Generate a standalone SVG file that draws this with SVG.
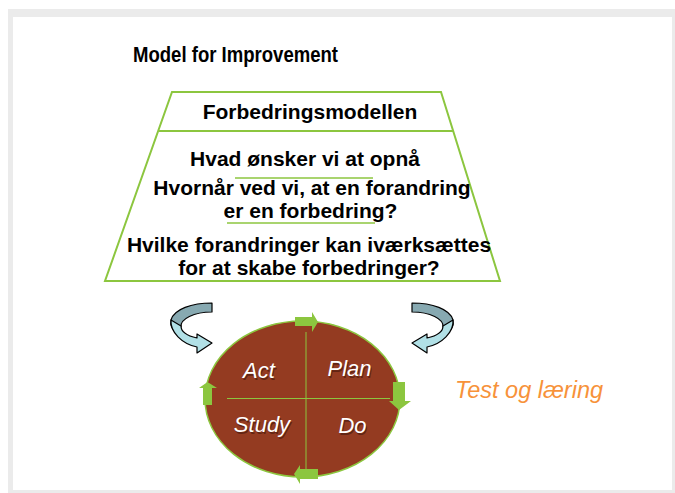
<svg xmlns="http://www.w3.org/2000/svg" width="675" height="493" viewBox="0 0 675 493">
<defs>
<style>
.t{font-family:"Liberation Sans",Arial,sans-serif;font-weight:bold;font-size:21px;fill:#000;text-anchor:middle}
.g{stroke:#8cc63f;fill:none}
.lbl{font-family:"Liberation Sans",Arial,sans-serif;font-style:italic;font-size:22px;fill:#fff;text-anchor:middle}
.sh{fill:#3a1208;opacity:0.55}
.ga{fill:#8cc63f}
.dk{fill:#87a9b1;stroke:#000;stroke-width:1.2;stroke-linejoin:round}
.lt{fill:#b1e0e6;stroke:#000;stroke-width:1.2;stroke-linejoin:round}
</style>
<g id="curl">
<path class="dk" d="M212,303 C192,303 174,309 171,320 C170,325 172,329 176,332 L181,327 C180,319 194,312 212,312 Z"/>
<path class="lt" d="M171,320 C170,332 182,344 197,347 L197,353 L212,343 L197,334 L197,338 C188,336 181,332 181,326 Z"/>
</g>
</defs>
<rect x="0" y="0" width="675" height="493" fill="#fff"/>
<rect x="8" y="9" width="667" height="484" fill="#ebebeb"/>
<rect x="13" y="17" width="659" height="473" fill="#fff"/>

<g id="title">
<text x="133" y="62" font-family="Liberation Sans, Arial, sans-serif" font-weight="bold" font-size="22" textLength="205" lengthAdjust="spacingAndGlyphs">Model for Improvement</text>
</g>

<g id="pyramid">
<polygon class="g" stroke-width="2" points="172,92 441,92 500,281 105,281"/>
<line class="g" stroke-width="2" x1="159" y1="131" x2="454" y2="131"/>
<text class="t" x="310" y="119">Forbedringsmodellen</text>
<text class="t" x="305" y="166">Hvad ønsker vi at opnå</text>
<text class="t" x="312" y="195">Hvornår ved vi, at en forandring</text>
<text class="t" x="310.5" y="218">er en forbedring?</text>
<text class="t" x="309" y="252">Hvilke forandringer kan iværksættes</text>
<text class="t" x="309" y="275">for at skabe forbedringer?</text>
<line class="g" stroke-width="1.5" x1="235" y1="178" x2="373" y2="178"/>
<line class="g" stroke-width="1.5" x1="227" y1="223" x2="375" y2="223"/>
</g>

<g id="curl-left">
<use href="#curl"/>
</g>
<g id="curl-right">
<use href="#curl" transform="translate(624,0) scale(-1,1)"/>
</g>

<g id="pdsa">
<ellipse cx="302.5" cy="399" rx="97.5" ry="78" fill="#943b21" stroke="#8cc63f" stroke-width="1.5"/>
<line x1="306" y1="332" x2="306" y2="475" stroke="#8cc63f" stroke-width="1"/>
<line x1="227" y1="398.5" x2="390" y2="398.5" stroke="#8cc63f" stroke-width="1"/>
<text class="lbl sh" x="260" y="379.5">Act</text>
<text class="lbl" x="259" y="378">Act</text>
<text class="lbl sh" x="350.5" y="377.5">Plan</text>
<text class="lbl" x="349.5" y="376">Plan</text>
<text class="lbl sh" x="263" y="433.5">Study</text>
<text class="lbl" x="262" y="432">Study</text>
<text class="lbl sh" x="353.5" y="434.5">Do</text>
<text class="lbl" x="352.5" y="433">Do</text>
</g>

<g id="cycle-arrows">
<polygon class="ga" points="295,317 312,317 312,312 318,322 312,332 312,326 295,326"/>
<polygon class="ga" points="393,382 405,382 405,401 411,401 399,410 389,401 393,401"/>
<polygon class="ga" points="318,469 318,479 300,479 300,484 294,474 300,465 300,469"/>
<polygon class="ga" points="203,405 212,405 212,388 217,388 207.5,382 199,388 203,388"/>
</g>

<g id="test-label">
<text x="455" y="398" font-family="Liberation Sans, Arial, sans-serif" font-style="italic" font-size="23.5" fill="#f7923a">Test og læring</text>
</g>
</svg>
